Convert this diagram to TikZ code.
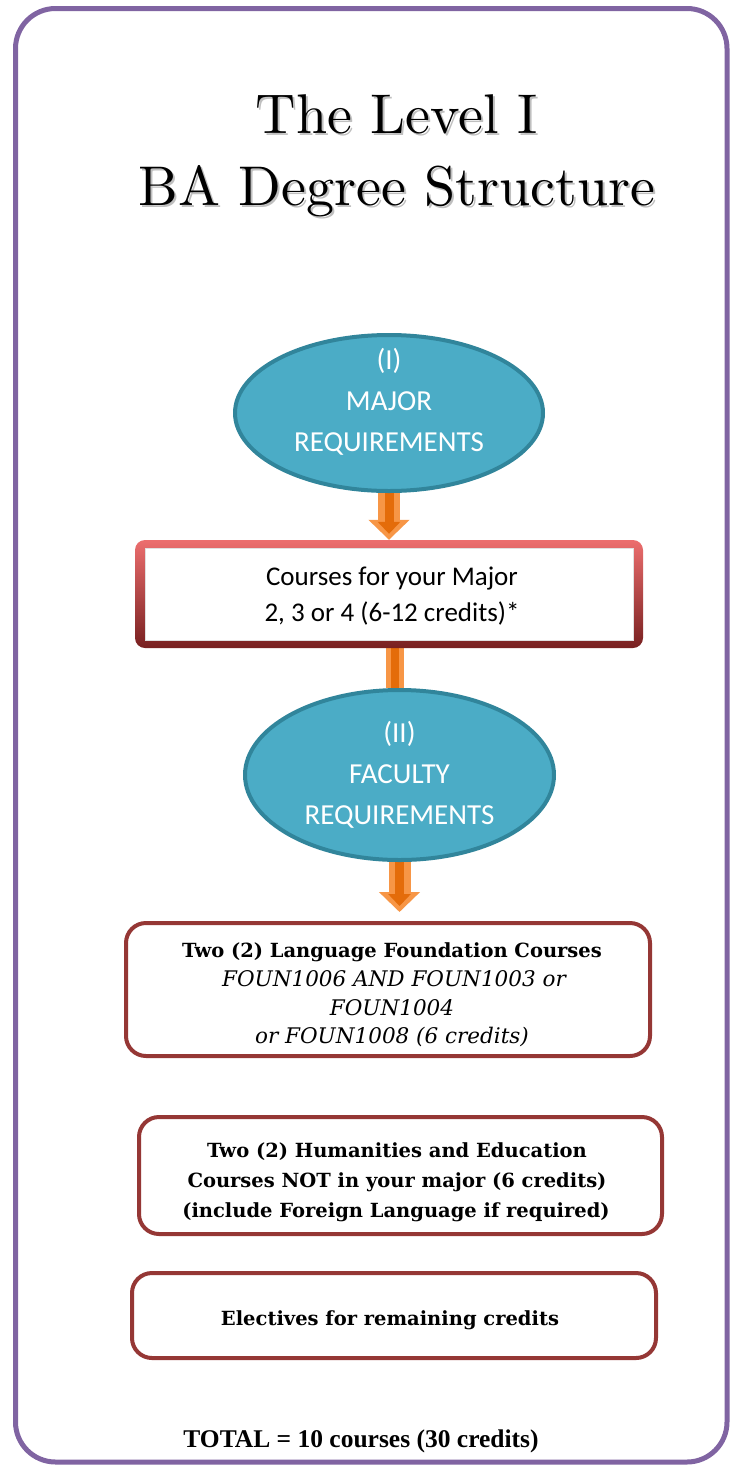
\documentclass[tikz,border=0pt]{standalone}
\usepackage{fontspec}
\newfontfamily\calibri{Carlito}
\newfontfamily\timesb{Liberation Serif}
\newfontfamily\dvs{DejaVu Serif}
\newfontfamily\titlefont[Extension=.otf]{lmroman10-regular}
\usetikzlibrary{shapes.geometric,arrows.meta,backgrounds}
\definecolor{tealF}{RGB}{75,172,198}
\definecolor{tealD}{RGB}{49,133,155}
\definecolor{orL}{RGB}{247,150,70}
\definecolor{orD}{RGB}{228,108,10}
\definecolor{boxR}{RGB}{149,55,53}
\definecolor{frameP}{RGB}{128,100,162}
\definecolor{redTop}{RGB}{236,110,110}
\definecolor{redBot}{RGB}{120,32,32}
\tikzset{
  ell/.style={ellipse, fill=tealF, draw=tealD, line width=4pt, inner sep=0pt},
  etext/.style={font=\calibri\fontsize{29}{41}\selectfont, text=white, align=center, inner sep=0pt},
  rbox/.style={rectangle, rounded corners=20pt, draw=boxR, line width=4pt, fill=white, inner sep=0pt},
  titletext/.style={font=\titlefont\fontsize{56}{72}\selectfont, anchor=base, inner sep=0pt},
  boldline/.style={font=\dvs\bfseries\fontsize{19.5}{29}\selectfont, anchor=base, inner sep=0pt},
  itline/.style={font=\dvs\itshape\fontsize{21.5}{29}\selectfont, anchor=base, inner sep=0pt},
  arrout/.style={line width=22pt, orL, -{Triangle[width=40pt,length=20pt]}},
  arrin/.style={line width=9pt, orD, -{Triangle[width=22pt,length=12pt]}},
}
\begin{document}
\begin{tikzpicture}[x=1pt,y=-1pt]
\useasboundingbox (0,0) rectangle (735,1465);
\draw[frameP, line width=5pt, rounded corners=40pt] (15.5,8.5) rectangle (727,1462);

% title
\node[titletext, text=black!25] (t1s) at (399,135) {The Level I};
\node[titletext, text=black!25] (t2s) at (399,207) {BA Degree Structure};
\node[titletext] (t1) at (397,133) {The Level I};
\node[titletext] (t2) at (397,205) {BA Degree Structure};

% ellipse 1
\node[ell, minimum width=308pt, minimum height=156pt] (e1) at (389,413) {};
\node[etext] (e1t) at (389,402) {(I)\\MAJOR\\REQUIREMENTS};

% box 1
\node[rectangle, rounded corners=10pt, top color=redTop, bottom color=redBot,
      minimum width=508pt, minimum height=108pt, inner sep=0pt] (b1) at (389,594) {};
\node[rectangle, fill=white, draw=black!12, line width=1pt,
      minimum width=488pt, minimum height=92pt, inner sep=0pt] (b1in) at (389,594) {};
\node[font=\calibri\fontsize{27}{36}\selectfont, align=center, inner sep=0pt] (b1t) at (392,596)
  {Courses for your Major\\2, 3 or 4 (6-12 credits)*};

% ellipse 2
\node[ell, minimum width=309pt, minimum height=170pt] (e2) at (399.5,775) {};
\node[etext] (e2t) at (399.5,775) {(II)\\FACULTY\\REQUIREMENTS};

% box 2
\node[rbox, minimum width=524pt, minimum height=133pt] (b2) at (388,989.5) {};
\node[boldline] (b2l1) at (392,957) {Two (2) Language Foundation Courses};
\node[itline] (b2l2) at (394,986) {FOUN1006 AND FOUN1003 or};
\node[itline] (b2l3) at (392,1015) {FOUN1004};
\node[itline] (b2l4) at (392,1043) {or FOUN1008 (6 credits)};

% box 3
\node[rbox, minimum width=523pt, minimum height=117pt] (b3) at (400.5,1175.5) {};
\node[boldline] (b3l1) at (397,1157) {Two (2) Humanities and Education};
\node[boldline] (b3l2) at (397,1187) {Courses NOT in your major (6 credits)};
\node[boldline] (b3l3) at (396,1217) {(include Foreign Language if required)};

% box 4
\node[rbox, minimum width=524pt, minimum height=85pt] (b4) at (394,1315.5) {};
\node[boldline] (b4t) at (390,1325) {Electives for remaining credits};

% total
\node[font=\timesb\bfseries\fontsize{25.5}{30}\selectfont, anchor=base, inner sep=0pt] (tot) at (361,1447)
  {TOTAL = 10 courses (30 credits)};

\coordinate (m2) at (394.5,0);
\begin{scope}[on background layer]
  \draw[arrout] (e1.south) -- (b1.north);
  \draw[arrin] (e1.south) -- ([yshift=6pt]b1.north);
  \draw[line width=18pt, orL] (b1.south -| m2) -- (e2.north -| m2);
  \draw[line width=8pt, orD] (b1.south -| m2) -- (e2.north -| m2);
  \draw[arrout, shorten >=9pt] (e2.south) -- (e2.south |- b2.north);
  \draw[arrin, shorten >=15pt] (e2.south) -- (e2.south |- b2.north);
\end{scope}
\end{tikzpicture}
\end{document}
